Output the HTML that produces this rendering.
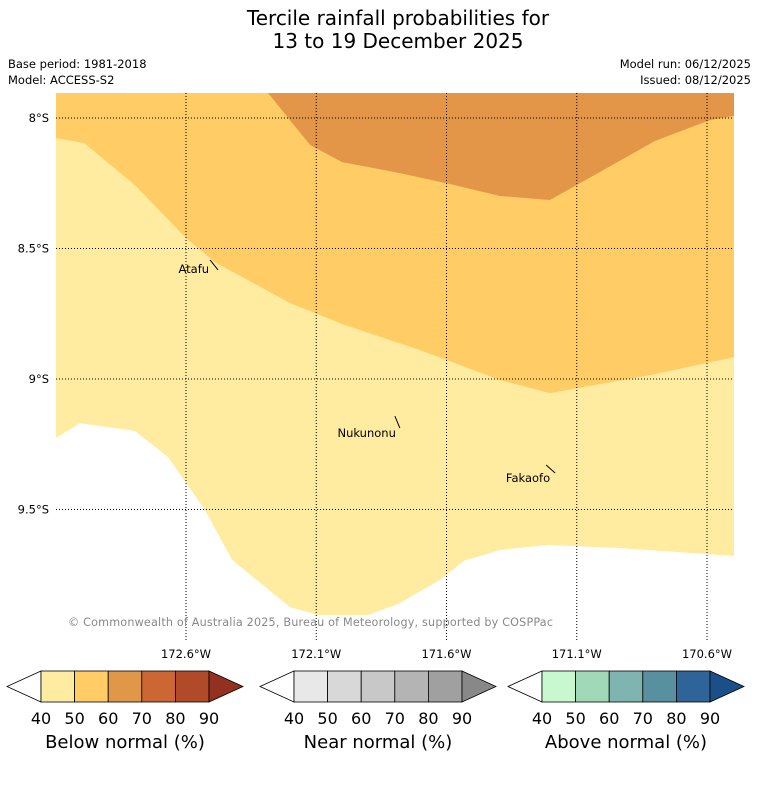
<!DOCTYPE html>
<html><head><meta charset="utf-8"><style>
body{margin:0;background:#fff;font-family:"DejaVu Sans","Liberation Sans",sans-serif}
svg text{font-family:"DejaVu Sans","Liberation Sans",sans-serif}
</style></head><body>
<svg id="s" width="758" height="781" viewBox="0 0 758 781">
<text x="398" y="25" font-size="20" text-anchor="middle">Tercile rainfall probabilities for</text>
<text x="398" y="48" font-size="20" text-anchor="middle">13 to 19 December 2025</text>
<text x="8" y="68" font-size="11.5">Base period: 1981-2018</text>
<text x="8" y="84" font-size="11.5">Model: ACCESS-S2</text>
<text x="751" y="68" font-size="11.5" text-anchor="end">Model run: 06/12/2025</text>
<text x="751" y="84" font-size="11.5" text-anchor="end">Issued: 08/12/2025</text>
<defs><clipPath id="mc"><rect x="56" y="93" width="678" height="547"/></clipPath></defs>
<g id="map" clip-path="url(#mc)"></g>
<g id="grid"></g>
<g id="places"></g>
<text x="68" y="626" font-size="11.2" fill="#888" textLength="485">© Commonwealth of Australia 2025, Bureau of Meteorology, supported by COSPPac</text>
<g id="bars"></g>
</svg>
<script>
const lonTicks=[172.6,172.1,171.6,171.1,170.6];
const latTicks=[8,8.5,9,9.5];
// contour polygons (lon °W, lat °S)
const lvl40Lon=[173.099,173.099,173.007,172.796,172.669,172.527,172.423,172.201,172.093,171.901,171.786,171.625,171.533,171.395,171.210,170.934,170.496,170.496];
const lvl40Lat=[7.904,9.226,9.169,9.199,9.299,9.502,9.693,9.874,9.904,9.904,9.862,9.770,9.697,9.655,9.636,9.648,9.678,7.904];
const lvl50Lon=[173.099,173.099,172.991,172.796,172.6,172.489,172.201,171.990,171.702,171.395,171.203,170.819,170.496,170.496];
const lvl50Lat=[7.904,8.077,8.096,8.257,8.460,8.552,8.709,8.793,8.889,9.004,9.054,8.985,8.916,7.904];
const lvl60Lon=[172.285,172.201,172.124,172.001,171.779,171.587,171.395,171.203,171.011,170.800,170.589,170.496,170.496];
const lvl60Lat=[7.904,8.008,8.103,8.169,8.211,8.253,8.299,8.314,8.207,8.088,8.008,7.992,7.904];
const placeNames=["Atafu","Nukunonu","Fakaofo"];
const placeLon=[172.477,171.779,171.183];
const placeLat=[8.582,9.188,9.360];

const cbTicks=[40,50,60,70,80,90];
const belowColors=["#FFECA0","#FFCC66","#E09848","#CC6633","#B04A28","#943020"];
const nearColors=["#E8E8E8","#D8D8D8","#C8C8C8","#B4B4B4","#A0A0A0","#888888"];
const aboveColors=["#C8F8D0","#A0D8B8","#80B4B0","#5890A0","#2E6498","#1A4F8A"];

const NS="http://www.w3.org/2000/svg";
const X=lon=>186+(172.6-lon)*260.5;
const Y=lat=>118+(lat-8)*261;
function mk(t,a,p){const e=document.createElementNS(NS,t);for(const k in a)e.setAttribute(k,a[k]);p.appendChild(e);return e;}
const map=document.getElementById('map');
function poly(lo,la,fill,name){
  const e=mk('polygon',{points:lo.map((v,i)=>X(v)+','+Y(la[i])).join(' '),fill:fill},map);
  
  
}
poly(lvl40Lon,lvl40Lat,"#FFECA0","contour-40-50");
poly(lvl50Lon,lvl50Lat,"#FFCC66","contour-50-60");
poly(lvl60Lon,lvl60Lat,"#E49648","contour-60-70");
const g=document.getElementById('grid');
lonTicks.forEach(v=>{
  const x=X(v);
  const l=mk('line',{x1:x,x2:x,y1:93,y2:640,stroke:'#000','stroke-width':1,'stroke-dasharray':'1,2'},g);
  
  
  const t=mk('text',{x:x,y:658,'font-size':11.5,'text-anchor':'middle'},g);
  t.textContent=v+'°W';
  
  
});
latTicks.forEach(v=>{
  const y=Y(v);
  const l=mk('line',{x1:56,x2:734,y1:y,y2:y,stroke:'#000','stroke-width':1,'stroke-dasharray':'1,2'},g);
  
  
  const t=mk('text',{x:49,y:y+4,'font-size':11.5,'text-anchor':'end'},g);
  t.textContent=(v%1?v:v.toFixed(0))+'°S';
  
  
});
const pg=document.getElementById('places');
const lineDx=[-8,-5,-9], lineDy=[-10,-12,-8], txtDx=[-9,-4,-5], txtDy=[3,9,9];
placeNames.forEach((n,i)=>{
  const x=X(placeLon[i]),y=Y(placeLat[i]);
  const l=mk('line',{x1:x,y1:y,x2:x+lineDx[i],y2:y+lineDy[i],stroke:'#000','stroke-width':1},pg);
  
  
  const t=mk('text',{x:x+txtDx[i],y:y+txtDy[i],'font-size':11.5,'text-anchor':'end'},pg);
  t.textContent=n;
  
  
});
const bg=document.getElementById('bars');
function bar(x0,colors,label,name){
  const w=33.6,y0=671,h=31,x1=x0+34;
  const grp=mk('g',{},bg);
  
  
  mk('polygon',{points:`${x1},${y0} ${x0},${y0+h/2} ${x1},${y0+h}`,fill:'#fff',stroke:'#000','stroke-width':0.8},grp);
  for(let i=0;i<5;i++)mk('rect',{x:x1+i*w,y:y0,width:w,height:h,fill:colors[i],stroke:'#000','stroke-width':0.8},grp);
  const xe=x1+5*w;
  mk('polygon',{points:`${xe},${y0} ${xe+34},${y0+h/2} ${xe},${y0+h}`,fill:colors[5],stroke:'#000','stroke-width':0.8},grp);
  cbTicks.forEach((v,i)=>{const t=mk('text',{x:x1+i*w,y:724,'font-size':16,'text-anchor':'middle'},grp);t.textContent=v;});
  const t=mk('text',{x:x1+2.5*w,y:748,'font-size':18,'text-anchor':'middle'},grp);t.textContent=label;
}
bar(7,belowColors,"Below normal (%)","below-normal-colorbar");
bar(260,nearColors,"Near normal (%)","near-normal-colorbar");
bar(508,aboveColors,"Above normal (%)","above-normal-colorbar");
</script>
</body></html>
